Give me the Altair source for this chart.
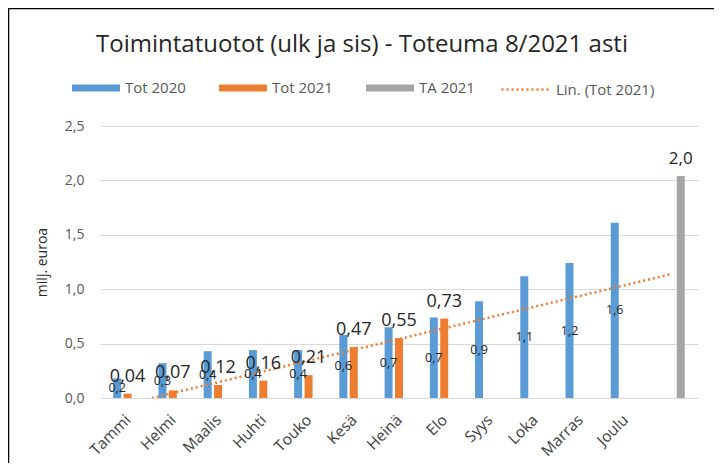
import altair as alt
import pandas as pd

months = ["Tammi", "Helmi", "Maalis", "Huhti", "Touko", "Kesä", "Heinä",
          "Elo", "Syys", "Loka", "Marras", "Joulu"]
tot_2020 = [0.18, 0.32, 0.43, 0.44, 0.44, 0.58, 0.65, 0.74, 0.89, 1.12, 1.24, 1.61]
tot_2021 = [0.04, 0.07, 0.12, 0.16, 0.21, 0.47, 0.55, 0.73]
ta_2021 = [2.04]
series_names = ["Tot 2020", "Tot 2021", "TA 2021"]
series_colors = ["#5b9bd5", "#ed7d31", "#a5a5a5"]
trend_name = "Lin. (Tot 2021)"
y_ticks = [0, 0.5, 1.0, 1.5, 2.0, 2.5]
title_text = "Toimintatuotot (ulk ja sis) - Toteuma 8/2021 asti"
y_title = "milj. euroa"

rows = []
for i, v in enumerate(tot_2020):
    rows.append({"series": "Tot 2020", "idx": i + 1, "value": v})
for i, v in enumerate(tot_2021):
    rows.append({"series": "Tot 2021", "idx": i + 1, "value": v})
for i, v in enumerate(ta_2021):
    rows.append({"series": "TA 2021", "idx": len(months) + 1 + i, "value": v})
df = pd.DataFrame(rows)

FONT = "Open Sans"
month_js = "[" + ",".join("'" + m + "'" for m in months) + "]"

xscale = alt.Scale(domain=[0.5, len(months) + 1.5], nice=False, zero=False)
yscale = alt.Scale(domain=[0, 2.5], nice=False)
xaxis = alt.Axis(values=list(range(1, len(months) + 1)),
                 labelExpr=month_js + "[datum.value-1]",
                 labelAngle=-45, labelAlign="right", labelBaseline="middle",
                 labelPadding=19, labelFontSize=15.5, labelColor="#404040",
                 labelFont=FONT, labelOverlap=False, labelBound=False,
                 domain=False, ticks=False, grid=False, title=None)
yaxis = alt.Axis(values=y_ticks,
                 labelExpr="replace(format(datum.value,'.1f'),'.',',')",
                 labelFontSize=14, labelColor="#595959", labelFont=FONT,
                 labelPadding=16, domain=False, ticks=False, grid=True,
                 gridColor="#d9d9d9", gridWidth=1,
                 title=y_title, titleFont=FONT, titleFontSize=14,
                 titleFontWeight="normal", titleColor="#262626", titlePadding=15)

base = alt.Chart(df).transform_calculate(
    slot="indexof(['Tot 2020','Tot 2021','TA 2021'], datum.series) - 1",
).transform_calculate(
    pos="datum.idx + 0.23*datum.slot"
)

bars = base.mark_bar(size=8).encode(
    x=alt.X("pos:Q", scale=xscale, axis=xaxis),
    y=alt.Y("value:Q", scale=yscale, axis=yaxis),
    color=alt.Color("series:N",
                    scale=alt.Scale(domain=series_names, range=series_colors),
                    legend=alt.Legend(orient="none", legendX=-28, legendY=-62,
                                      direction="horizontal", title=None,
                                      symbolType="M-1,-0.15L1,-0.15L1,0.15L-1,0.15Z",
                                      symbolSize=2304, symbolStrokeWidth=0,
                                      labelFontSize=15, labelColor="#595959",
                                      labelFont=FONT, labelOffset=5,
                                      columnPadding=33)),
)

lab21 = base.transform_filter("datum.series == 'Tot 2021'").transform_calculate(
    lbl="replace(format(datum.value,'.2f'),'.',',')"
).mark_text(dy=-12, baseline="alphabetic", fontSize=18, color="#262626", font=FONT).encode(
    x=alt.X("idx:Q", scale=xscale), y=alt.Y("value:Q", scale=yscale), text="lbl:N")

lab20 = base.transform_filter("datum.series == 'Tot 2020'").transform_calculate(
    lbl="replace(format(datum.value,'.1f'),'.',',')", half="datum.value/2"
).mark_text(baseline="middle", fontSize=12.5, color="#262626", font=FONT).encode(
    x=alt.X("pos:Q", scale=xscale), y=alt.Y("half:Q", scale=yscale), text="lbl:N")

labta = base.transform_filter("datum.series == 'TA 2021'").transform_calculate(
    lbl="replace(format(datum.value,'.1f'),'.',',')"
).mark_text(dy=-12, baseline="alphabetic", fontSize=17, color="#262626", font=FONT).encode(
    x=alt.X("pos:Q", scale=xscale), y=alt.Y("value:Q", scale=yscale), text="lbl:N")

trend = alt.Chart(df).transform_filter("datum.series == 'Tot 2021'").transform_regression(
    "idx", "value", groupby=["series"], extent=[1, len(months) + 1]
).transform_calculate(trend="'" + trend_name + "'").mark_line(
    clip=True, color="#ed7d31", strokeWidth=2.5
).encode(
    x=alt.X("idx:Q", scale=xscale),
    y=alt.Y("value:Q", scale=yscale),
    strokeDash=alt.StrokeDash("trend:N",
                              scale=alt.Scale(domain=[trend_name], range=[[2, 3]]),
                              legend=alt.Legend(orient="none", legendX=400, legendY=-62,
                                                title=None, symbolType="stroke",
                                                symbolSize=2304, symbolStrokeColor="#ed7d31",
                                                symbolStrokeWidth=2.5,
                                                labelFontSize=15, labelColor="#595959",
                                                labelFont=FONT, labelOffset=5)),
)

one = pd.DataFrame({"t": [title_text]})
title_mark = alt.Chart(one).mark_text(
    fontSize=24, font=FONT, color="#262626", align="center", baseline="middle"
).encode(x=alt.value(262), y=alt.value(-81), text="t:N")

frame = alt.Chart(one).mark_rect(
    fillOpacity=0, stroke="black", strokeWidth=1.5
).encode(x=alt.value(-91.5), x2=alt.value(618), y=alt.value(-117.5), y2=alt.value(400))

chart = alt.layer(bars, trend, lab20, lab21, labta, title_mark, frame).properties(
    width=598, height=272,
    padding={"left": 92, "top": 118, "right": 16, "bottom": 65},
    autosize=alt.AutoSizeParams(type="none"),
).configure_view(stroke=None)

chart.save("out.html", embed_options={"renderer": "svg", "actions": False})
